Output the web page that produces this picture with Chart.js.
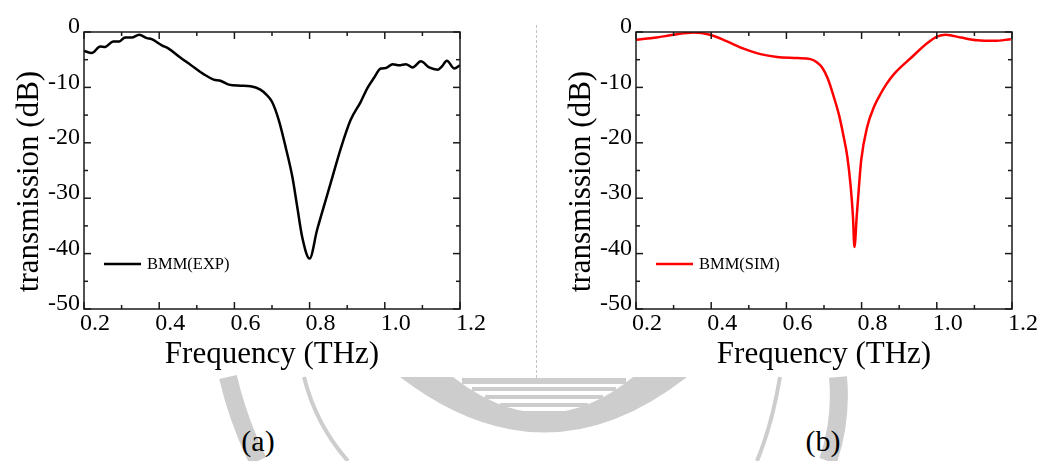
<!DOCTYPE html>
<html>
<head>
<meta charset="utf-8">
<script src="https://cdn.jsdelivr.net/npm/chart.js@4.4.1/dist/chart.umd.min.js"></script>
<style>
  html, body { margin: 0; padding: 0; background: #fff; }
  #page { position: relative; width: 1038px; height: 461px; overflow: hidden; background: #fff; font-family: "Liberation Serif", "Times New Roman", serif; }
  canvas { position: absolute; top: 0; }
  #ca { left: 0; }
  #cb { left: 520px; }
  #sep { position: absolute; left: 536px; top: 25px; width: 0; height: 353px; border-left: 1px dashed #c4c4c4; }
  .lab { position: absolute; font-size: 30px; color: #000; top: 424px; transform: translateX(-50%); white-space: nowrap; }
  #wm { position: absolute; left: 0; top: 0; }
</style>
</head>
<body>
<div id="page">
  <svg id="wm" width="1038" height="461" viewBox="0 0 1038 461">
    <g fill="#cdcdcd" stroke="none">
      <path d="M400,377 Q545,488 687,377 L633,377 Q545,449 453,377 Z"/>
      <rect x="462" y="378" width="164" height="6"/>
      <rect x="472" y="387" width="144" height="4"/>
      <rect x="485" y="395" width="118" height="4"/>
      <rect x="500" y="403" width="88" height="4"/>
      <rect x="518" y="411" width="50" height="3"/>
    </g>
    <g fill="none" stroke="#cdcdcd">
      <path d="M228,377 Q238,420 258,461" stroke-width="18"/>
      <path d="M304,377 Q316,425 348,461" stroke-width="4"/>
      <path d="M780,377 Q772,425 757,461" stroke-width="4"/>
      <path d="M838,377 Q842,420 828,461" stroke-width="18"/>
    </g>
  </svg>
  <canvas id="ca" width="520" height="380"></canvas>
  <canvas id="cb" width="518" height="380"></canvas>
  <div id="sep"></div>
  <div class="lab" style="left:258px;">(a)</div>
  <div class="lab" style="left:823px;">(b)</div>
</div>
<script>
// ---------- data ----------
const xTicks = [0.2, 0.4, 0.6, 0.8, 1.0, 1.2];
const yTicks = [0, -10, -20, -30, -40, -50];

const freqExp = [0.200, 0.221, 0.243, 0.256, 0.278, 0.294, 0.309, 0.327, 0.347, 0.367, 0.380,
  0.407, 0.425, 0.456, 0.483, 0.518, 0.545, 0.563, 0.585, 0.616, 0.643, 0.669, 0.685,
  0.700, 0.718, 0.736, 0.754, 0.767, 0.780, 0.800, 0.820, 0.843, 0.861, 0.883, 0.909,
  0.936, 0.954, 0.971, 0.989, 1.003, 1.021, 1.038, 1.056, 1.074, 1.096, 1.118, 1.141,
  1.152, 1.165, 1.185, 1.200];
const dbExp = [-3.4, -3.8, -2.6, -2.7, -1.7, -1.7, -1.0, -1.0, -0.5, -1.1, -1.3,
  -2.4, -3.0, -4.6, -5.9, -7.6, -8.6, -8.8, -9.5, -9.7, -9.8, -10.4, -11.3,
  -12.6, -15.9, -20.7, -26.1, -31.5, -36.9, -40.9, -35.7, -30.3, -26.1, -21.0, -15.9,
  -12.6, -10.1, -8.3, -6.6, -6.5, -5.8, -6.0, -5.8, -6.4, -5.3, -6.4, -6.8,
  -6.2, -5.2, -6.6, -6.0];

const freqSim = [0.200, 0.255, 0.300, 0.353, 0.397, 0.442, 0.486, 0.531, 0.575, 0.629, 0.664,
  0.680, 0.695, 0.710, 0.726, 0.740, 0.752, 0.762, 0.771, 0.777, 0.781, 0.787, 0.793, 0.799,
  0.815, 0.833, 0.851, 0.866, 0.886, 0.931, 0.975, 1.002, 1.024, 1.064, 1.108, 1.153, 1.197];
const dbSim = [-1.4, -1.0, -0.5, -0.1, -0.5, -1.7, -3.0, -4.0, -4.5, -4.7, -4.9,
  -5.4, -6.4, -8.4, -11.7, -15.0, -18.8, -22.5, -27.9, -33.3, -38.8, -33.3, -27.9, -23.1,
  -17.1, -13.5, -11.1, -9.4, -7.6, -4.7, -2.0, -0.8, -0.5, -1.0, -1.5, -1.6, -1.3];

const xTitle = 'Frequency (THz)';
const yTitle = 'transmission (dB)';

// ---------- helpers ----------
const FONT = '"Liberation Serif", "Times New Roman", serif';

const decor = {
  id: 'decor',
  afterDraw(chart) {
    const { ctx, chartArea: { left, right, top, bottom }, scales: { x, y } } = chart;
    ctx.save();
    ctx.strokeStyle = '#1a1a1a';
    ctx.lineWidth = 1.5;
    ctx.strokeRect(left, top, right - left, bottom - top);
    const seg = (x1, y1, x2, y2) => { ctx.beginPath(); ctx.moveTo(x1, y1); ctx.lineTo(x2, y2); ctx.stroke(); };
    // x ticks (major + minor), inward on bottom and top
    const xs = [];
    xTicks.forEach((v, i) => { xs.push([v, 7]); if (i < xTicks.length - 1) xs.push([(v + xTicks[i + 1]) / 2, 4]); });
    xs.forEach(([v, L]) => { const p = x.getPixelForValue(v); seg(p, bottom, p, bottom - L); seg(p, top, p, top + L); });
    const ys = [];
    yTicks.forEach((v, i) => { ys.push([v, 7]); if (i < yTicks.length - 1) ys.push([(v + yTicks[i + 1]) / 2, 4]); });
    ys.forEach(([v, L]) => { const p = y.getPixelForValue(v); seg(left, p, left + L, p); seg(right, p, right - L, p); });

    // axis titles
    ctx.fillStyle = '#000';
    ctx.font = '31px ' + FONT;
    ctx.textAlign = 'center';
    ctx.textBaseline = 'alphabetic';
    ctx.fillText(xTitle, (left + right) / 2, 363);
    ctx.save();
    ctx.translate(left - 46, (top + bottom) / 2 + 11);
    ctx.rotate(-Math.PI / 2);
    ctx.fillText(yTitle, 0, 0);
    ctx.restore();

    // legend
    const ds = chart.data.datasets[0];
    const ly = 264;
    ctx.strokeStyle = ds.borderColor;
    ctx.lineWidth = 2.5;
    seg(left + 20, ly, left + 57, ly);
    ctx.fillStyle = '#000';
    ctx.font = '16.5px ' + FONT;
    ctx.textAlign = 'left';
    ctx.textBaseline = 'middle';
    ctx.fillText(ds.label, left + 63, ly + 1);
    ctx.restore();
  }
};

function makeChart(id, freq, db, label, color, yWidth, rightPad) {
  const pts = freq.map((f, i) => ({ x: f, y: db[i] }));
  return new Chart(document.getElementById(id), {
    type: 'line',
    data: { datasets: [{ label, data: pts, borderColor: color, borderWidth: 2.5, pointRadius: 0, fill: false, cubicInterpolationMode: 'monotone' }] },
    options: {
      responsive: false,
      animation: false,
      layout: { padding: { top: 32, right: rightPad, left: 0, bottom: 0 } },
      plugins: { legend: { display: false }, tooltip: { enabled: false } },
      scales: {
        x: {
          type: 'linear', min: 0.2, max: 1.2,
          afterBuildTicks: s => { s.ticks = xTicks.map(v => ({ value: v })); },
          afterFit: s => { s.height = 71; },
          grid: { display: false, drawTicks: false },
          border: { display: false },
          ticks: { color: '#000', font: { family: FONT, size: 24 }, labelOffset: 11, padding: 0, maxRotation: 0, autoSkip: false, callback: v => Number(v).toFixed(1) }
        },
        y: {
          type: 'linear', min: -50, max: 0,
          afterBuildTicks: s => { s.ticks = yTicks.map(v => ({ value: v })); },
          afterFit: s => { s.width = yWidth; },
          grid: { display: false, drawTicks: false },
          border: { display: false },
          ticks: { color: '#000', font: { family: FONT, size: 24 }, labelOffset: -5, padding: 4, autoSkip: false, callback: v => String(v) }
        }
      }
    },
    plugins: [decor]
  });
}

makeChart('ca', freqExp, dbExp, 'BMM(EXP)', '#000000', 84, 60);
makeChart('cb', freqSim, dbSim, 'BMM(SIM)', '#ff0000', 116, 26);
</script>
</body>
</html>
